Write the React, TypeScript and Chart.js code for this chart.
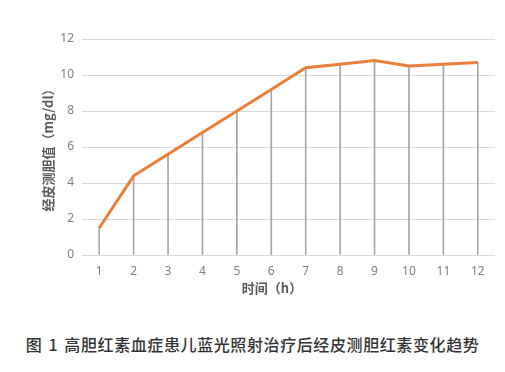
import React, { useEffect, useRef } from "react";
import { Chart, registerables } from "chart.js";

Chart.register(...registerables);

const hours = ["1", "2", "3", "4", "5", "6", "7", "8", "9", "10", "11", "12"];
const tcbValues = [1.5, 4.4, 5.6, 6.8, 8.0, 9.2, 10.4, 10.6, 10.8, 10.5, 10.6, 10.7];
const yTitle = "经皮测胆值（mg/dl）";
const xTitle = "时间（h）";
const caption = "图 1 高胆红素血症患儿蓝光照射治疗后经皮测胆红素变化趋势";

export default function App() {
  const ref = useRef<HTMLCanvasElement | null>(null);

  useEffect(() => {
    if (!ref.current) return;
    const chart = new Chart(ref.current, {
      type: "bar",
      data: {
        labels: hours,
        datasets: [
          {
            type: "line",
            data: tcbValues,
            borderColor: "#E8803A",
            borderWidth: 3,
            pointRadius: 0,
            tension: 0,
            order: 0,
          } as any,
          {
            type: "bar",
            data: tcbValues,
            backgroundColor: "#a6a6a6",
            barThickness: 1,
            order: 1,
          },
        ],
      },
      options: {
        animation: false,
        responsive: false,
        maintainAspectRatio: false,
        layout: { padding: { left: 0, right: 10, top: 39, bottom: 0 } },
        plugins: { legend: { display: false }, tooltip: { enabled: false } },
        scales: {
          x: {
            offset: true,
            grid: { display: false, drawTicks: false },
            border: { display: false },
            ticks: {
              padding: 9,
              color: "#7f7f7f",
              font: { family: "Noto Sans", size: 12 },
            },
            afterFit: (s: any) => {
              s.height = 45;
            },
          },
          y: {
            min: 0,
            max: 12,
            ticks: {
              stepSize: 2,
              padding: 8,
              color: "#7f7f7f",
              font: { family: "Noto Sans", size: 12 },
            },
            grid: { color: "#d9d9d9", drawTicks: false, lineWidth: 1 },
            border: { display: false },
            title: {
              display: true,
              text: yTitle,
              color: "#595959",
              font: { family: "Noto Sans CJK SC", size: 13, weight: "bold" },
              padding: { top: 40, bottom: 0 },
            },
            afterFit: (s: any) => {
              s.width = 82;
            },
          },
        },
      },
    });
    return () => chart.destroy();
  }, []);

  return (
    <div style={{ position: "absolute", left: 0, top: 0, width: 505, height: 372, background: "#fff" }}>
      <canvas ref={ref} width={505} height={300} style={{ position: "absolute", left: 0, top: 0 }} />
      <div
        style={{
          position: "absolute",
          left: 222,
          width: 100,
          top: 279,
          textAlign: "center",
          fontFamily: "Noto Sans CJK SC",
          fontWeight: "bold",
          fontSize: 13,
          lineHeight: "18px",
          color: "#595959",
        }}
      >
        {xTitle}
      </div>
      <div
        style={{
          position: "absolute",
          left: 0,
          width: 505,
          top: 334,
          textAlign: "center",
          fontFamily: "Noto Sans CJK SC",
          fontWeight: 500,
          fontSize: 16,
          lineHeight: "20px",
          letterSpacing: "0.6px",
          wordSpacing: "2px",
          color: "#333333",
          whiteSpace: "nowrap",
        }}
      >
        {caption}
      </div>
    </div>
  );
}
